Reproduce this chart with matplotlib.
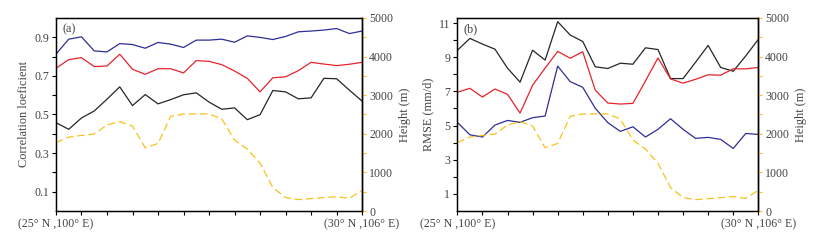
import matplotlib
matplotlib.use("Agg")
import matplotlib.pyplot as plt
import numpy as np
from matplotlib.ticker import MultipleLocator

plt.rcParams["font.family"] = ["Liberation Serif", "DejaVu Serif"]
plt.rcParams["font.size"] = 8.6

x = np.arange(25)
xlabels = ["(25° N ,100° E)", "(30° N ,106° E)"]

height = [1768, 1915, 1958, 1993, 2227, 2314, 2201, 1638, 1750, 2452, 2513, 2513, 2513,
          2383, 1837, 1603, 1239, 607, 347, 295, 321, 347, 373, 329, 537]

corr_blue = [0.812, 0.890, 0.902, 0.829, 0.824, 0.867, 0.862, 0.843, 0.873, 0.864, 0.847, 0.885,
             0.885, 0.890, 0.874, 0.907, 0.899, 0.888, 0.904, 0.928, 0.932, 0.937, 0.945, 0.919, 0.932]
corr_red = [0.739, 0.784, 0.794, 0.748, 0.751, 0.812, 0.734, 0.708, 0.737, 0.737, 0.715, 0.779,
            0.775, 0.758, 0.725, 0.687, 0.617, 0.690, 0.695, 0.727, 0.770, 0.761, 0.753, 0.760, 0.770]
corr_black = [0.458, 0.423, 0.482, 0.518, 0.579, 0.643, 0.546, 0.603, 0.555, 0.577, 0.602, 0.612,
              0.564, 0.527, 0.534, 0.473, 0.499, 0.624, 0.617, 0.581, 0.586, 0.687, 0.685, 0.626, 0.569]

rmse_black = [9.40, 10.10, 9.77, 9.47, 8.36, 7.54, 9.41, 8.83, 11.08, 10.30, 9.92, 8.44, 8.34,
              8.65, 8.59, 9.55, 9.45, 7.75, 7.75, 8.71, 9.69, 8.40, 8.18, 9.08, 10.04]
rmse_red = [6.95, 7.18, 6.67, 7.14, 6.83, 5.73, 7.36, 8.36, 9.34, 8.94, 9.32, 7.07, 6.32,
            6.26, 6.30, 7.61, 8.96, 7.73, 7.48, 7.71, 7.97, 7.95, 8.32, 8.32, 8.40]
rmse_blue = [5.19, 4.46, 4.33, 5.03, 5.30, 5.19, 5.46, 5.56, 8.48, 7.57, 7.24, 6.01, 5.17,
             4.66, 4.93, 4.33, 4.78, 5.40, 4.78, 4.25, 4.31, 4.19, 3.66, 4.54, 4.48]

BLUE = "#2e2e96"
RED = "#e8232b"
BLACK = "#262626"
YELLOW = "#f7c21b"
TXT = "#444444"

fig = plt.figure(figsize=(8.23, 2.42), dpi=100)


def make_panel(rect, series, ylim, ylabel, tag):
    ax = fig.add_axes(rect)
    for vals, col in series:
        ax.plot(x, vals, color=col, lw=0.9)
    ax.set_xlim(0, 24)
    ax.set_ylim(*ylim)
    ax.set_xticks(np.arange(0, 25, 2))
    ax.set_xticklabels([xlabels[0]] + [""] * 11 + [xlabels[1]])
    ax.tick_params(axis="both", direction="out", length=3, width=0.8,
                   labelcolor=TXT, colors="black", pad=2)
    ax.set_ylabel(ylabel, color=TXT, fontsize=8.8, labelpad=3)
    ax.text(0.02, 0.94, tag, transform=ax.transAxes, color=TXT, fontsize=8.8,
            ha="left", va="center")
    for s in ax.spines.values():
        s.set_linewidth(1.0)
    ax2 = ax.twinx()
    ax2.plot(x, height, color=YELLOW, lw=0.9, ls=(0, (6, 3)))
    ax2.set_ylim(0, 5000)
    ax2.set_yticks(np.arange(0, 5001, 1000))
    ax2.yaxis.set_minor_locator(MultipleLocator(500))
    ax2.tick_params(axis="y", which="both", direction="out", length=3, width=0.8,
                    colors=YELLOW, labelcolor=TXT, pad=2)
    ax2.set_ylabel("Height (m)", color=TXT, fontsize=8.8, labelpad=4)
    ax2.spines["right"].set_linewidth(1.0)
    return ax, ax2


ax_a, _ = make_panel([0.068, 0.128, 0.372, 0.798],
                     [(corr_blue, BLUE), (corr_red, RED), (corr_black, BLACK)],
                     (0, 1.0), "Correlation loeficient", "(a)")
ax_a.set_yticks(np.arange(0.1, 1.0, 0.1))
ax_a.set_yticklabels(["0.1", "", "0.3", "", "0.5", "", "0.7", "", "0.9"])

ax_b, _ = make_panel([0.5557, 0.128, 0.3657, 0.798],
                     [(rmse_black, BLACK), (rmse_red, RED), (rmse_blue, BLUE)],
                     (0, 11.3), "RMSE (mm/d)", "(b)")
ax_b.set_yticks(np.arange(1, 12, 1))
ax_b.set_yticklabels(["1", "", "3", "", "5", "", "7", "", "9", "", "11"])

fig.savefig("out.png", dpi=100)
